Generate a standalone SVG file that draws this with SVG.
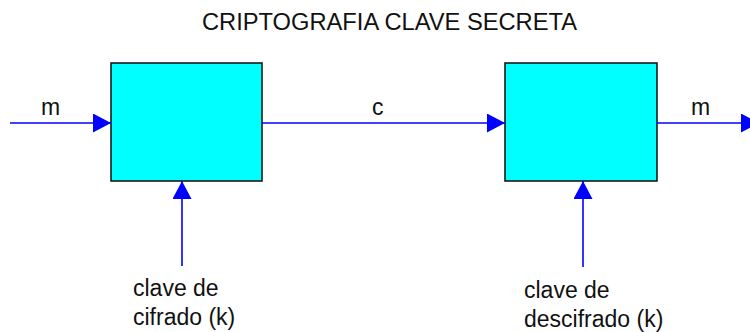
<svg xmlns="http://www.w3.org/2000/svg" width="750" height="332" viewBox="0 0 750 332">
  <style>
    .box { fill: #00ffff; stroke: #1a1a1a; stroke-width: 1.6; }
    .wire { fill: none; stroke: #0000ff; stroke-width: 1.6; }
    .lbl { font-family: "Liberation Sans", Arial, sans-serif; font-size: 23px; fill: #111; }
    .title { font-family: "Liberation Sans", Arial, sans-serif; font-size: 23.5px; fill: #111; }
  </style>
  <defs>
    <marker id="head" markerUnits="userSpaceOnUse" markerWidth="18" markerHeight="20" refX="18" refY="9.5" orient="auto">
      <path d="M0,0 L18,9.5 L0,19 Z" fill="#0000ff"/>
    </marker>
  </defs>

  <rect width="750" height="332" fill="#ffffff"/>

  <text class="title" x="202" y="30" textLength="375" lengthAdjust="spacingAndGlyphs">CRIPTOGRAFIA CLAVE SECRETA</text>

  <g id="cifrador">
    <rect class="box" x="111" y="63" width="151" height="118"/>
  </g>
  <g id="descifrador">
    <rect class="box" x="505" y="63" width="152" height="118"/>
  </g>

  <g id="connectors">
    <line class="wire" x1="10" y1="123" x2="111" y2="123" marker-end="url(#head)"/>
    <line class="wire" x1="262" y1="123" x2="505" y2="123" marker-end="url(#head)"/>
    <line class="wire" x1="657" y1="123" x2="759" y2="123" marker-end="url(#head)"/>
    <line class="wire" x1="182" y1="266" x2="182" y2="181" marker-end="url(#head)"/>
    <line class="wire" x1="583" y1="267" x2="583" y2="181" marker-end="url(#head)"/>
  </g>

  <g id="labels">
    <text class="lbl" x="41" y="115">m</text>
    <text class="lbl" x="372" y="115">c</text>
    <text class="lbl" x="691" y="115">m</text>
    <text class="lbl" x="133" y="296">clave de</text>
    <text class="lbl" x="133" y="325">cifrado (k)</text>
    <text class="lbl" x="524" y="298">clave de</text>
    <text class="lbl" x="524" y="327">descifrado (k)</text>
  </g>
</svg>
